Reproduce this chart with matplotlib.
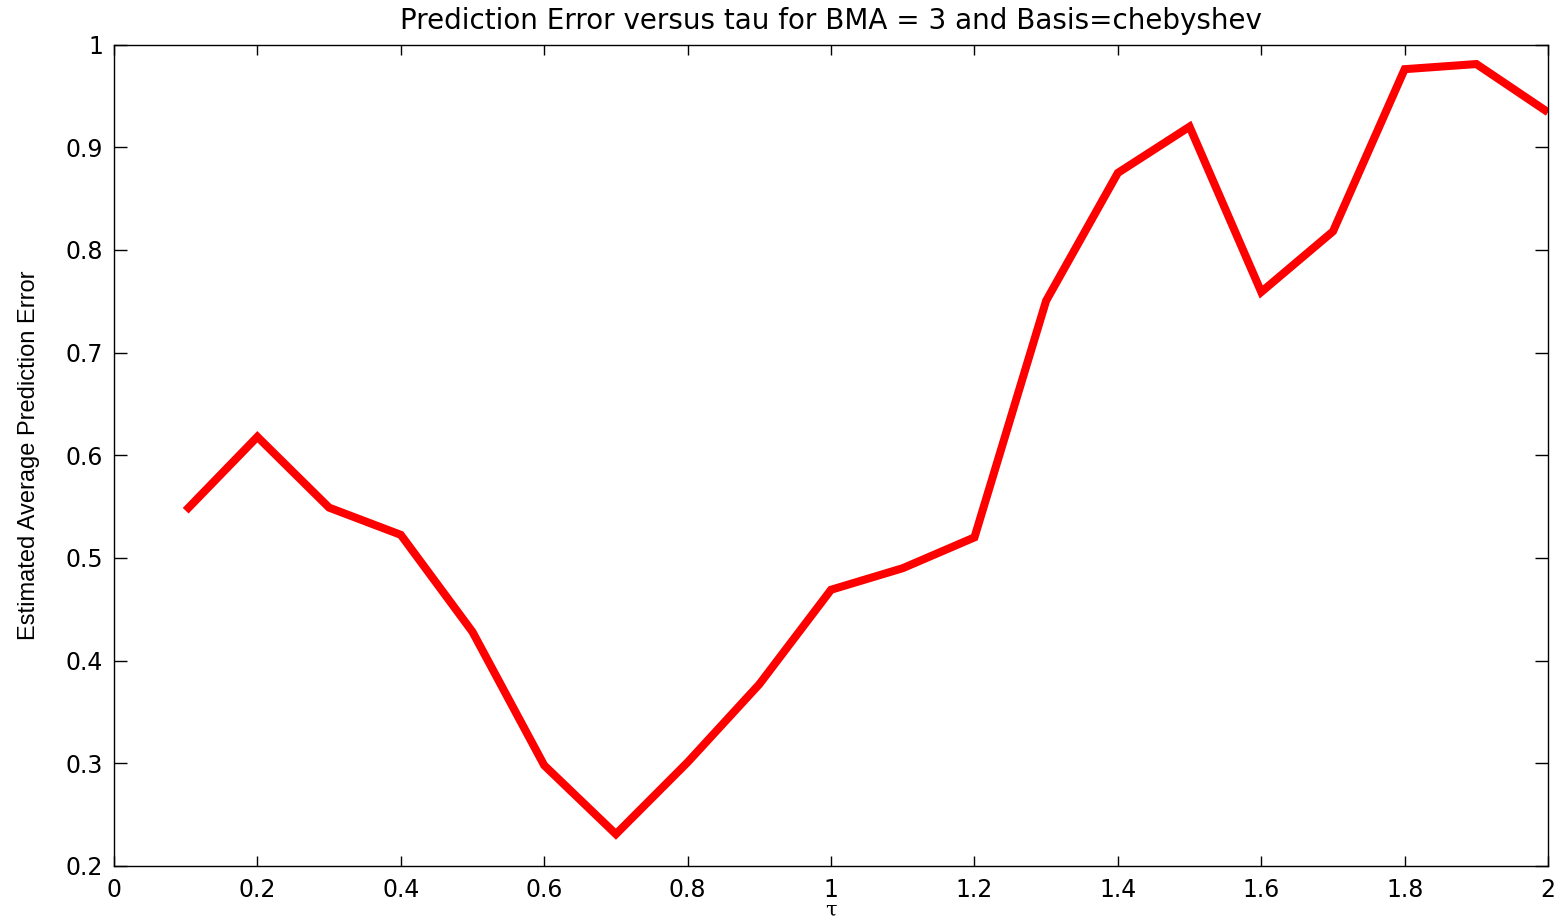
import matplotlib
matplotlib.use('Agg')
import matplotlib.pyplot as plt

# values
tau = [0.1, 0.2, 0.3, 0.4, 0.5, 0.6, 0.7, 0.8, 0.9, 1.0,
       1.1, 1.2, 1.3, 1.4, 1.5, 1.6, 1.7, 1.8, 1.9, 2.0]
pred_err = [0.546, 0.618, 0.549, 0.5225, 0.428, 0.298, 0.231, 0.301, 0.377, 0.469,
            0.490, 0.520, 0.7505, 0.875, 0.920, 0.759, 0.818, 0.976, 0.981, 0.934]

x_ticks = [0, 0.2, 0.4, 0.6, 0.8, 1, 1.2, 1.4, 1.6, 1.8, 2]
x_tick_labels = ['0', '0.2', '0.4', '0.6', '0.8', '1', '1.2', '1.4', '1.6', '1.8', '2']
y_ticks = [0.2, 0.3, 0.4, 0.5, 0.6, 0.7, 0.8, 0.9, 1]
y_tick_labels = ['0.2', '0.3', '0.4', '0.5', '0.6', '0.7', '0.8', '0.9', '1']

plt.rcParams['font.family'] = ['DejaVu Sans']

fig = plt.figure(figsize=(15.59, 9.24), dpi=100)
ax = fig.add_axes([0.0731, 0.0628, 0.9199, 0.889])

ax.plot(tau, pred_err, color='#ff0000', linewidth=5.8,
        solid_joinstyle='miter', solid_capstyle='butt')

ax.set_xlim(0, 2)
ax.set_ylim(0.2, 1)
ax.set_xticks(x_ticks)
ax.set_xticklabels(x_tick_labels)
ax.set_yticks(y_ticks)
ax.set_yticklabels(y_tick_labels)
ax.tick_params(direction='in', width=1, top=True, right=True,
               labelsize=17, color='black')
ax.tick_params(axis='x', length=7.2, pad=9)
ax.tick_params(axis='y', length=9.4, pad=8)
for s in ax.spines.values():
    s.set_linewidth(1.0)

ax.set_title('Prediction Error versus tau for BMA = 3 and Basis=chebyshev',
             fontsize=20, pad=11)
ax.set_xlabel('τ', fontsize=15, family=['DejaVu Serif'], labelpad=-1)
ax.set_ylabel('Estimated Average Prediction Error', fontsize=17,
              family=['Liberation Sans Narrow', 'Liberation Sans'], labelpad=18)

fig.savefig('out.png', dpi=100)
